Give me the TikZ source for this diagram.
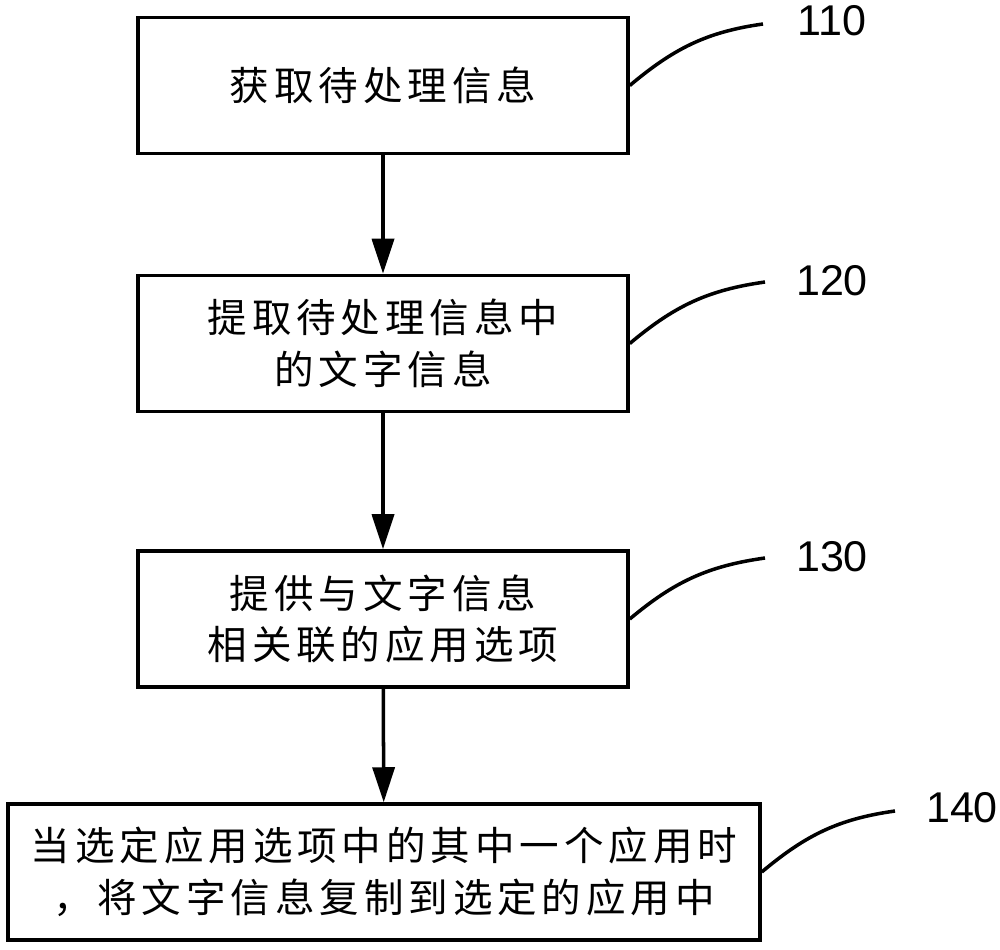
\documentclass[tikz,border=0pt]{standalone}
\usepackage{fontspec}
\setmainfont{Liberation Sans}
\newfontfamily\cjk[LetterSpace=12.4]{Noto Sans CJK SC}
\usetikzlibrary{arrows.meta}
\tikzset{
  stepbox/.style={draw, line width=2pt, minimum width=9.8cm, minimum height=2.72cm,
    align=center, inner sep=0pt, font=\cjk\fontsize{22.5}{29.5}\selectfont},
  flow/.style={line width=2pt, -{Triangle[length=0.7cm,width=0.44cm]}},
  lead/.style={line width=2pt},
  tag/.style={font=\fontsize{24.5}{28}\selectfont}
}
\begin{document}
\begin{tikzpicture}
    \useasboundingbox (0,0) rectangle (20,18.98);

    \node[stepbox] (s110) at (7.66,17.27) {获取待处理信息};
    \node[stepbox] (s120) at (7.66,12.11) {提取待处理信息中\\的文字信息};
    \node[stepbox] (s130) at (7.66,6.60) {提供与文字信息\\相关联的应用选项};
    \node[stepbox, minimum width=15.04cm] (s140) at (7.68,1.54) {当选定应用选项中的其中一个应用时\\，将文字信息复制到选定的应用中};

    \draw[flow] (s110) -- (s120);
    \draw[flow] (s120) -- (s130);
    \draw[flow] (s130) -- (s140);

%    reference numbers
    \node[tag] (l110) at (16.64,18.56) {110};
    \node[tag] (l120) at (16.64,13.36) {120};
    \node[tag] (l130) at (16.64,7.84) {130};
    \node[tag] (l140) at (19.24,2.82) {140};

    \coordinate (e110) at (15.26,18.50);
    \coordinate (e120) at (15.30,13.34);
    \coordinate (e130) at (15.30,7.82);
    \coordinate (e140) at (17.90,2.76);

    \draw[lead] (s110.east) to[out=40,in=188] (e110);
    \draw[lead] (s120.east) to[out=40,in=188] (e120);
    \draw[lead] (s130.east) to[out=40,in=188] (e130);
    \draw[lead] (s140.east) to[out=40,in=188] (e140);

\end{tikzpicture}
\end{document}
